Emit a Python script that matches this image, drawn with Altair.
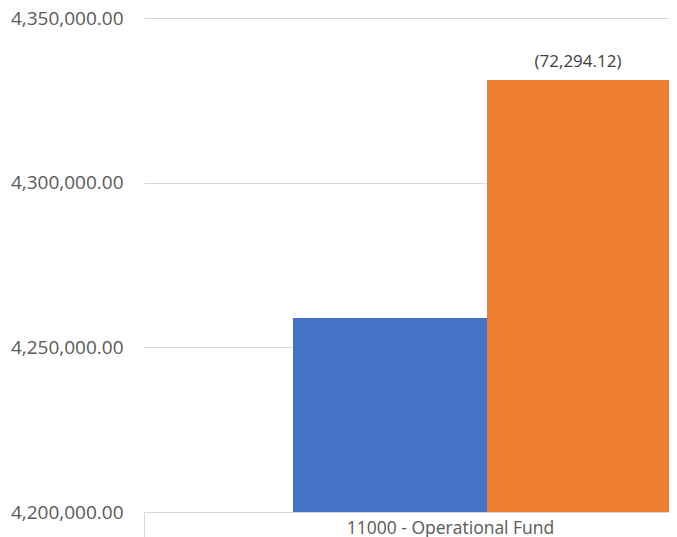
import altair as alt
import pandas as pd

categories = ["11000 - Operational Fund", "11000 - Operational Fund"]
series = ["Budget", "Actual"]
values = [4258880.00, 4331174.12]
labels = ["", "(72,294.12)"]
colors = ["#4472C4", "#ED7D31"]
y_ticks = [4200000, 4250000, 4300000, 4350000]

df = pd.DataFrame({"category": categories, "series": series, "value": values, "label": labels})

FONT = "Open Sans"
GRID = "#d9d9d9"
TXT = "#595959"

x = alt.X(
    "category:N",
    scale=alt.Scale(range=[0, 612], paddingInner=0, paddingOuter=0),
    axis=alt.Axis(
        title=None, labelAngle=0, domainColor=GRID, tickColor=GRID, tickSize=25,
        tickBand="extent", labelPadding=-18, labelFontSize=17.5, labelColor=TXT,
        labelFont=FONT, grid=False, labelBaseline="top", labelLimit=0,
    ),
)
xo = alt.XOffset("series:N", sort=series,
                 scale=alt.Scale(range=[149, 537], paddingInner=0, paddingOuter=0))
y = alt.Y(
    "value:Q",
    scale=alt.Scale(domain=[4200000, 4350000], nice=False, zero=False),
    axis=alt.Axis(
        title=None, values=y_ticks, format=",.2f", domain=False, ticks=False,
        labelPadding=21, gridColor=GRID, labelFontSize=19, labelColor=TXT, labelFont=FONT,
    ),
)

bars = alt.Chart(df).mark_bar(clip=True).encode(
    x=x, xOffset=xo, y=y,
    color=alt.Color("series:N", scale=alt.Scale(domain=series, range=colors), legend=None),
)

text = alt.Chart(df).mark_text(
    baseline="alphabetic", dy=-13, dx=-6, fontSize=17, font=FONT, color="#404040"
).encode(x=x, xOffset=xo, y=y, text="label:N")

chart = (bars + text).properties(
    width=525, height=494,
    autosize=alt.AutoSizeParams(type="none"),
    padding={"left": 136, "top": 10, "right": 0, "bottom": 25},
).configure_view(stroke=None)

chart.save("out.html", embed_options={"renderer": "svg", "actions": False})
